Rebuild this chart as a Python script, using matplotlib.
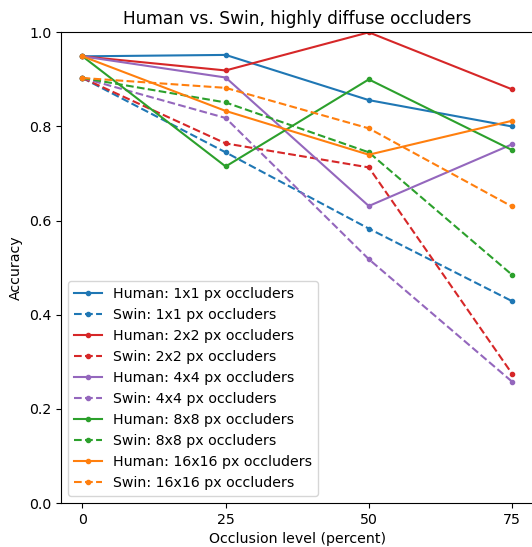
import numpy as np
import matplotlib.pyplot as plt

plt.rcParams['font.size'] = 10.2

# occlusion levels (percent)
levels = [0, 25, 50, 75]

sizes = ['1x1', '2x2', '4x4', '8x8', '16x16']
colors = ['tab:blue', 'tab:red', 'tab:purple', 'tab:green', 'tab:orange']

human_1x1 = [0.949, 0.952, 0.856, 0.800]
swin_1x1 = [0.903, 0.745, 0.583, 0.429]
human_2x2 = [0.949, 0.919, 1.000, 0.879]
swin_2x2 = [0.903, 0.764, 0.713, 0.275]
human_4x4 = [0.949, 0.904, 0.631, 0.762]
swin_4x4 = [0.903, 0.818, 0.518, 0.258]
human_8x8 = [0.949, 0.715, 0.900, 0.750]
swin_8x8 = [0.903, 0.851, 0.745, 0.485]
human_16x16 = [0.949, 0.833, 0.740, 0.812]
swin_16x16 = [0.903, 0.882, 0.796, 0.630]

human = [human_1x1, human_2x2, human_4x4, human_8x8, human_16x16]
swin = [swin_1x1, swin_2x2, swin_4x4, swin_8x8, swin_16x16]

fig = plt.figure(figsize=(5.32, 5.47), dpi=100)
ax = fig.add_axes([0.1147, 0.0804, 0.888, 0.8605])

for s, c, h, w in zip(sizes, colors, human, swin):
    ax.plot(levels, h, color=c, linestyle='-', marker='.', label='Human: %s px occluders' % s)
    ax.plot(levels, w, color=c, linestyle='--', marker='.', label='Swin: %s px occluders' % s)

ax.set_ylim(0, 1)
ax.set_xticks(levels)
ax.set_xlabel('Occlusion level (percent)')
ax.set_ylabel('Accuracy')
ax.set_title('Human vs. Swin, highly diffuse occluders')
ax.legend(loc='lower left')

fig.savefig('out.png', dpi=100)
